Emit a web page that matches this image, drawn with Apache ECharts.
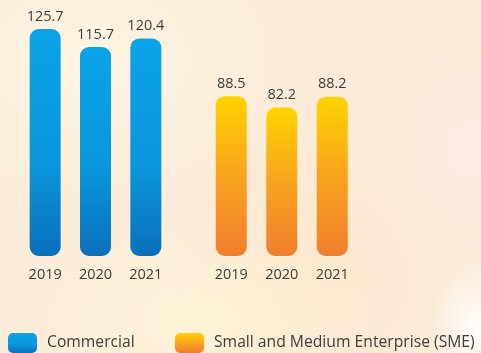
<!DOCTYPE html>
<html>
<head>
<meta charset="utf-8">
<script src="https://cdn.jsdelivr.net/npm/echarts@6/dist/echarts.min.js"></script>
<style>
  html, body { margin: 0; padding: 0; }
  body {
    width: 481px; height: 353px; overflow: hidden;
    background:
      radial-gradient(ellipse 50px 70px at 478px 330px, rgba(255,255,255,0.95), rgba(255,255,255,0) 100%),
      radial-gradient(ellipse 90px 120px at 470px 150px, rgba(253,236,228,0.9), rgba(253,236,228,0) 100%),
      radial-gradient(ellipse 220px 160px at 90px 60px, rgba(253,245,226,0.9), rgba(253,245,226,0) 100%),
      radial-gradient(ellipse 200px 120px at 200px 320px, rgba(254,243,214,0.9), rgba(254,243,214,0) 100%),
      radial-gradient(ellipse 160px 160px at 320px 280px, rgba(252,228,200,0.7), rgba(252,228,200,0) 100%),
      #fbecd9;
  }
  #chart { width: 481px; height: 353px; }
</style>
</head>
<body>
<div id="chart"></div>
<script>
// Loan portfolio by segment, 2019–2021
const years = ['2019', '2020', '2021'];
const commercial = [125.7, 115.7, 120.4];
const sme = [88.5, 82.2, 88.2];
const seriesNames = ['Commercial', 'Small and Medium Enterprise (SME)'];

const blueFill = new echarts.graphic.LinearGradient(0, 0, 0, 1, [
  { offset: 0, color: '#0ba3e8' },
  { offset: 0.6, color: '#0a95dc' },
  { offset: 1, color: '#0a6fbb' }
]);
const orangeFill = new echarts.graphic.LinearGradient(0, 0, 0, 1, [
  { offset: 0, color: '#ffd300' },
  { offset: 0.45, color: '#f9a81c' },
  { offset: 1, color: '#f07e2e' }
]);

const textColor = '#3d3d3d';
const fontFamily = '"Open Sans", "Noto Sans", sans-serif';

function makeX(idx) {
  return {
    type: 'category', gridIndex: idx, data: years,
    axisLine: { show: false }, axisTick: { show: false },
    axisLabel: { color: textColor, fontSize: 14.5, fontFamily: fontFamily, margin: 11 }
  };
}
function makeY(idx) {
  return { type: 'value', gridIndex: idx, min: 0, max: 125.7, show: false, splitLine: { show: false } };
}
function makeSeries(name, data, idx, fill) {
  return {
    name: name, type: 'bar', xAxisIndex: idx, yAxisIndex: idx,
    data: data, barWidth: 31,
    itemStyle: { color: fill, borderRadius: 9 },
    label: {
      show: true, position: 'top', distance: 5,
      color: textColor, fontSize: 14.5, fontFamily: fontFamily
    }
  };
}
function makeLegend(name, left) {
  return {
    data: [name], left: left, top: 333,
    icon: 'roundRect', itemWidth: 29, itemHeight: 20, itemGap: 0,
    textStyle: { color: textColor, fontSize: 15.7, fontFamily: fontFamily, padding: [0, 0, 0, 5] },
    padding: 0
  };
}

const chart = echarts.init(document.getElementById('chart'), null, { renderer: 'canvas' });
chart.setOption({
  backgroundColor: 'transparent',
  animation: false,
  grid: [
    { left: 20, width: 151, top: 29, bottom: 97 },
    { left: 206, width: 151.5, top: 29, bottom: 97 }
  ],
  xAxis: [makeX(0), makeX(1)],
  yAxis: [makeY(0), makeY(1)],
  legend: [makeLegend(seriesNames[0], 8), makeLegend(seriesNames[1], 175)],
  series: [
    makeSeries(seriesNames[0], commercial, 0, blueFill),
    makeSeries(seriesNames[1], sme, 1, orangeFill)
  ]
});
</script>
</body>
</html>
